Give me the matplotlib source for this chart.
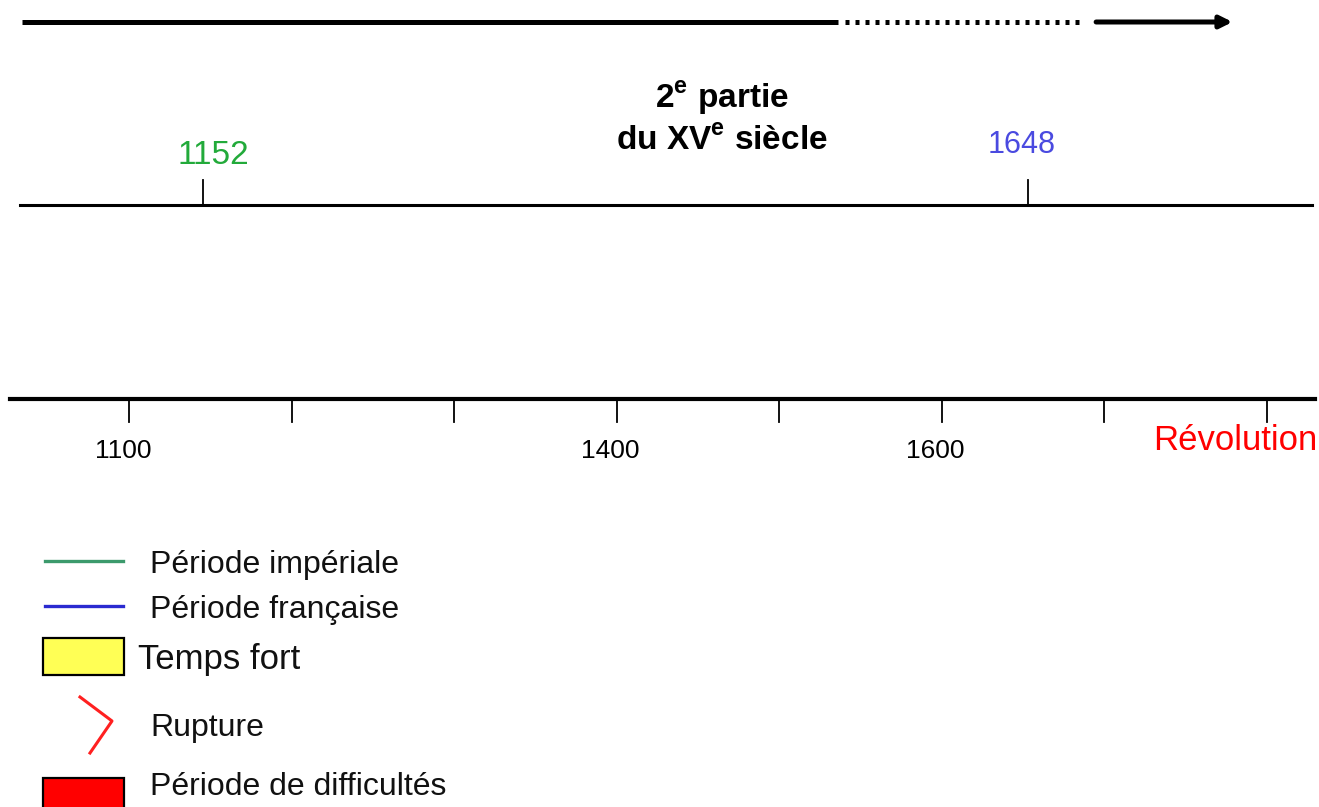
import matplotlib.pyplot as plt
from matplotlib.patches import Rectangle

plt.rcParams['font.family'] = ['Liberation Sans', 'DejaVu Sans']
plt.rcParams['mathtext.fontset'] = 'custom'
plt.rcParams['mathtext.bf'] = 'Liberation Sans:bold'
plt.rcParams['mathtext.rm'] = 'Liberation Sans'

# top arrow (years, upper scale)
solid_span = (1043, 1534)
dotted_span = (1538, 1680)
arrow_span = (1689, 1771)

# events on the middle line
event_years = [1152, 1648]
event_labels = ['1152', '1648']
event_colors = ['#22aa3a', '#4a4ae0']

period_year = 1464
period_lines = [r'2$^{\mathbf{e}}$ partie', r'du XV$^{\mathbf{e}}$ siècle']

# lower scale
tick_years = [1100, 1200, 1300, 1400, 1500, 1600, 1700, 1800]
tick_labels = ['1100', '', '', '1400', '', '1600', '', 'Révolution']
tick_label_colors = ['black', 'black', 'black', 'black', 'black', 'black', 'black', 'red']

# legend
legend_labels = ['Période impériale', 'Période française', 'Temps fort', 'Rupture', 'Période de difficultés']

fig = plt.figure(figsize=(13.19, 8.07), dpi=100)

# lower timeline
ax = fig.add_axes([0, 0, 1, 1])
ax.set_xlim(1020.4, 1832.1)
ax.set_ylim(807, 0)
ax.axis('off')

y_low = 399
ax.plot([1026.5, 1829.5], [y_low, y_low], color='black', lw=3)
for yr, lab, c in zip(tick_years, tick_labels, tick_label_colors):
    ax.plot([yr, yr], [y_low, y_low + 23], color='black', lw=1.3)
    if lab == 'Révolution':
        ax.text(1831, 440, lab, ha='right', va='center', fontsize=25, color=c)
    elif lab:
        ax.text(yr - 4, 451, lab, ha='center', va='center', fontsize=19, color=c,
                family=['Liberation Sans Narrow', 'Liberation Sans', 'DejaVu Sans'])

# upper timeline (own scale)
up = fig.add_axes([0, 0, 1, 1])
up.set_xlim(1030.0, 1823.0)
up.set_ylim(807, 0)
up.axis('off')
up.patch.set_alpha(0)

y_top = 22
up.plot(solid_span, [y_top, y_top], color='black', lw=3.6, solid_capstyle='butt')
up.plot(dotted_span, [y_top, y_top], color='black', lw=3.6, dashes=(0.8, 1.2))
up.annotate('', xy=(arrow_span[1], y_top), xytext=(arrow_span[0], y_top),
            arrowprops=dict(arrowstyle='-|>', color='black', lw=3.6,
                            mutation_scale=18, shrinkA=0, shrinkB=0))

up.text(period_year, 98, period_lines[0], ha='center', va='center',
        fontsize=24, fontweight='bold')
up.text(period_year, 141, period_lines[1], ha='center', va='center',
        fontsize=24, fontweight='bold')

y_mid = 205
up.plot([1042, 1819], [y_mid, y_mid], color='black', lw=2.2)
label_dx = [6, -4]
label_y = [155, 145]
label_size = [24, 22]
for yr, lab, c, dx, ly, fs in zip(event_years, event_labels, event_colors, label_dx, label_y, label_size):
    up.plot([yr, yr], [y_mid, y_mid - 25], color='black', lw=1.3)
    up.text(yr + dx, ly, lab, ha='center', va='center', fontsize=fs, color=c)

# legend in pixel coordinates
lg = fig.add_axes([0, 0, 1, 1])
lg.set_xlim(0, 1319)
lg.set_ylim(807, 0)
lg.axis('off')
lg.patch.set_alpha(0)

lg.plot([45, 123], [561, 561], color='#3c9a6c', lw=2.4)
lg.plot([45, 123], [606, 606], color='#2a2ad0', lw=2.4)
lg.add_patch(Rectangle((43, 638), 81, 37, facecolor='#ffff55', edgecolor='black', lw=1.6))
lg.plot([80, 112, 90], [697, 721, 753], color='#ff2020', lw=2.2)
lg.add_patch(Rectangle((43, 778), 81, 40, facecolor='#ff0000', edgecolor='black', lw=1.6, clip_on=False))

text_x = [150, 150, 138, 150, 150]
text_y = [565, 610, 660, 728, 787]
text_size = [23, 23, 25, 23, 23]
for x, y, lab, fs in zip(text_x, text_y, legend_labels, text_size):
    lg.text(x, y, lab, ha='left', va='center', fontsize=fs, color='#111111')

fig.savefig('out.png', dpi=100)
